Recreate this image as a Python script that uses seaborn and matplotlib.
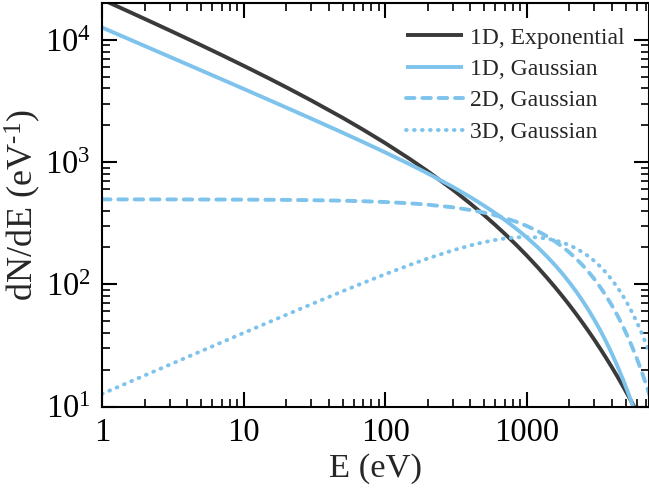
import matplotlib
matplotlib.use("Agg")
import matplotlib.pyplot as plt
from matplotlib.ticker import NullFormatter, LogLocator
import seaborn as sns
import pandas as pd

# ---- data ----
energy = [1, 1.5, 2, 3, 5, 7, 10, 15, 20, 30, 50, 70, 100, 150, 200, 300, 400,
          500, 600, 700, 850, 1000, 1200, 1400, 1600, 1800, 2000, 2250, 2500,
          2750, 3000, 3300, 3600, 4000, 4400, 4800, 5200, 5600, 6000, 6500,
          7000, 7500]
exp_1d = [21382, 17284, 14842, 11947, 9048, 7508, 6138, 4855, 4094, 3195,
          2305, 1838, 1430, 1056, 840.1, 595.0, 457.1, 367.9, 305.3, 258.9,
          208.2, 171.9, 137.1, 112.1, 93.45, 79.04, 67.67, 56.51, 47.80,
          40.86, 35.25, 29.82, 25.46, 20.90, 17.35, 14.56, 12.33, 10.52,
          9.04, 7.54, 6.34, 5.37]
gauss_1d = [12610, 10293, 8912, 7273, 5628, 4752, 3970, 3233, 2793, 2269,
            1740, 1456, 1200, 955.7, 807.2, 626.9, 516.5, 439.4, 381.6, 336.0,
            282.9, 242.0, 199.9, 167.4, 141.7, 120.9, 103.8, 86.35, 72.29,
            60.83, 51.39, 42.18, 34.76, 27.00, 21.07, 16.52, 12.99, 10.25,
            8.11, 6.07, 4.55, 3.43]
gauss_2d = [494.8, 494.6, 494.5, 494.3, 493.8, 493.3, 492.5, 491.3, 490.1,
            487.6, 482.8, 478.0, 470.9, 459.2, 447.9, 426.1, 405.3, 385.5,
            366.7, 348.8, 323.6, 300.2, 271.7, 245.8, 222.4, 201.3, 182.1,
            160.7, 141.8, 125.2, 110.5, 95.06, 81.82, 66.99, 54.85, 44.91,
            36.77, 30.10, 24.64, 19.19, 14.95, 11.64]
gauss_3d = [12.69, 15.54, 17.94, 21.96, 28.33, 33.48, 39.96, 48.82, 56.23,
            68.53, 87.59, 102.6, 120.8, 144.3, 162.5, 189.3, 208.0, 221.2,
            230.5, 236.8, 242.1, 243.6, 241.4, 236.0, 228.3, 219.1, 208.9,
            195.6, 181.9, 168.4, 155.2, 140.1, 126.0, 108.7, 93.34, 79.82,
            68.02, 57.79, 48.98, 39.70, 32.09, 25.87]

series_labels = ["1D, Exponential", "1D, Gaussian", "2D, Gaussian", "3D, Gaussian"]
x_ticks = [1, 10, 100, 1000]
x_tick_labels = ["1", "10", "100", "1000"]
y_ticks = [10, 100, 1000, 10000]
y_tick_labels = [r"$10^{1}$", r"$10^{2}$", r"$10^{3}$", r"$10^{4}$"]

# ---- style ----
sns.set_style("ticks")
plt.rcParams["font.family"] = ["Liberation Serif", "DejaVu Serif"]
plt.rcParams["mathtext.fontset"] = "custom"
plt.rcParams["mathtext.rm"] = "Liberation Serif"
plt.rcParams["mathtext.it"] = "Liberation Serif:italic"
plt.rcParams["mathtext.bf"] = "Liberation Serif:bold"

dark = "#3a3a3a"
blue = "#7dc3ec"
lw = 2.8

fig = plt.figure(figsize=(6.49, 4.91), dpi=100)
ax = fig.add_axes([102 / 649, (491 - 406.5) / 491, (648.5 - 102) / 649, (406.5 - 3) / 491])

series = [exp_1d, gauss_1d, gauss_2d, gauss_3d]
colors = [dark, blue, blue, blue]
styles = ["-", "-", (0, (2.2, 2.0)), (0, (0.2, 1.85))]
for vals, lab, col, ls in zip(series, series_labels, colors, styles):
    df = pd.DataFrame({"E": energy, "v": vals})
    sns.lineplot(data=df, x="E", y="v", ax=ax, color=col, lw=lw, linestyle=ls,
                 label=lab, dash_capstyle="round", solid_capstyle="butt")

ax.set_xscale("log")
ax.set_yscale("log")
ax.set_xlim(1, 7250)
ax.set_ylim(10, 2.0e4)

ax.set_xticks(x_ticks)
ax.set_xticklabels(x_tick_labels)
ax.set_yticks(y_ticks)
ax.set_yticklabels(y_tick_labels)
ax.xaxis.set_minor_locator(LogLocator(base=10, subs=range(2, 10), numticks=20))
ax.yaxis.set_minor_locator(LogLocator(base=10, subs=range(2, 10), numticks=20))
ax.xaxis.set_minor_formatter(NullFormatter())
ax.yaxis.set_minor_formatter(NullFormatter())

ax.tick_params(which="both", direction="in", top=True, right=True, colors="black")
ax.tick_params(which="major", length=11, width=1.5, labelsize=23.5, pad=8)
ax.tick_params(which="minor", length=6, width=1.2)
ax.tick_params(axis="y", which="major", pad=8)
for s in ax.spines.values():
    s.set_linewidth(1.5)
    s.set_color("black")

ax.set_xlabel("E (eV)", fontsize=24.8, labelpad=4)
ax.set_ylabel("dN/dE (eV$^{\\mathregular{\u2010}1}$)", fontsize=26, labelpad=1)

leg = ax.legend(loc="upper right", frameon=False, fontsize=17, handlelength=2.4,
                handletextpad=0.3, labelspacing=0.42, borderaxespad=0.62)

fig.savefig("out.png", dpi=100)
